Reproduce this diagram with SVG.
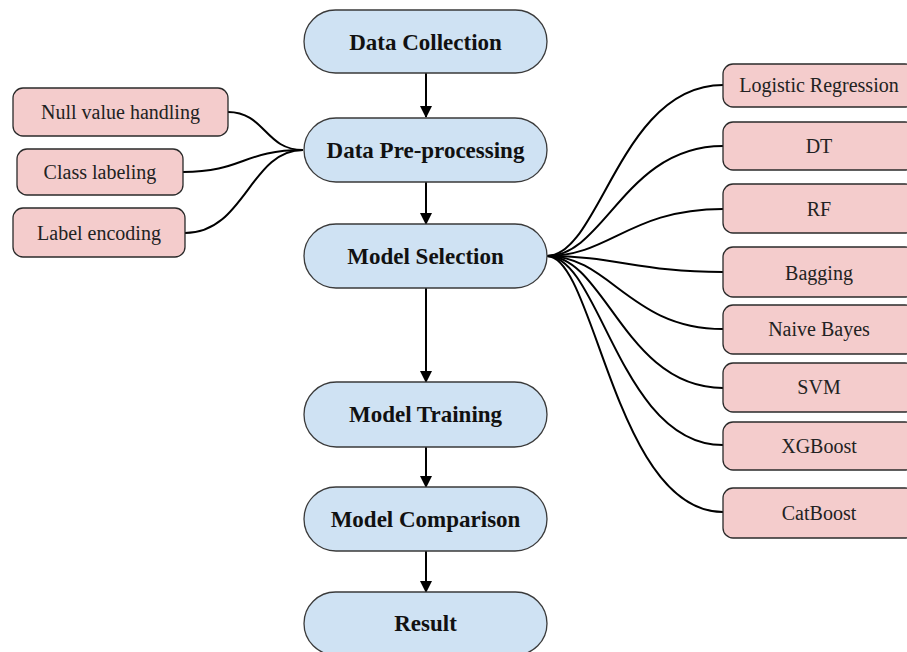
<svg xmlns="http://www.w3.org/2000/svg" width="907" height="652" viewBox="0 0 907 652">
<defs>
<style>
.main rect{fill:#cfe2f3;stroke:#3a3a3a;stroke-width:1.3}
.sub rect{fill:#f4cccc;stroke:#2a2a2a;stroke-width:1.3}
.main text{font-family:"Liberation Serif","Times New Roman",serif;font-weight:bold;font-size:23px;fill:#111;text-anchor:middle;dominant-baseline:central}
.sub text{font-family:"Liberation Serif","Times New Roman",serif;font-size:20px;fill:#222;text-anchor:middle;dominant-baseline:central}
.edge{fill:none;stroke:#000;stroke-width:2}
.arrow{fill:none;stroke:#000;stroke-width:2}
</style>
<marker id="ah" markerWidth="12" markerHeight="14" refX="11" refY="6" orient="auto" markerUnits="userSpaceOnUse">
<path d="M0,0 L12,6 L0,12 Z" fill="#000"/>
</marker>
</defs>
<rect width="907" height="652" fill="#fff"/>
<g id="connectors">
<path class="arrow" d="M426,73 V117" marker-end="url(#ah)"/>
<path class="arrow" d="M426,182 V224" marker-end="url(#ah)"/>
<path class="arrow" d="M426,288 V382" marker-end="url(#ah)"/>
<path class="arrow" d="M426,447 V487" marker-end="url(#ah)"/>
<path class="arrow" d="M426,551 V592" marker-end="url(#ah)"/>
<path class="edge" d="M228,112 C265,112 265,150 303,150"/>
<path class="edge" d="M183,172 C243,172 243,150 303,150"/>
<path class="edge" d="M185,233 C245,233 250,150 303,150"/>
<path class="edge" d="M547,256 C600,256 620,85 723,85"/>
<path class="edge" d="M547,256 C605,256 625,146 723,146"/>
<path class="edge" d="M547,256 C610,256 630,209 723,209"/>
<path class="edge" d="M547,256 C615,256 640,272 723,272"/>
<path class="edge" d="M547,256 C610,256 630,329 723,329"/>
<path class="edge" d="M547,256 C605,256 625,388 723,388"/>
<path class="edge" d="M547,256 C600,256 620,445 723,445"/>
<path class="edge" d="M547,256 C595,256 615,512 723,512"/>
</g>
<g id="data-collection" class="main"><rect x="304" y="10" width="243" height="63" rx="31.5"/><text x="425.5" y="42">Data Collection</text></g>
<g id="data-preprocessing" class="main"><rect x="304" y="118" width="243" height="64" rx="32"/><text x="425.5" y="150">Data Pre-processing</text></g>
<g id="model-selection" class="main"><rect x="304" y="224" width="243" height="64" rx="32"/><text x="425.5" y="256">Model Selection</text></g>
<g id="model-training" class="main"><rect x="304" y="382" width="243" height="65" rx="32.5"/><text x="425.5" y="414">Model Training</text></g>
<g id="model-comparison" class="main"><rect x="304" y="487" width="243" height="64" rx="32"/><text x="425.5" y="519">Model Comparison</text></g>
<g id="result" class="main"><rect x="304" y="592" width="243" height="63" rx="31.5"/><text x="425.5" y="623">Result</text></g>
<g id="null-value-handling" class="sub"><rect x="13" y="88" width="215" height="48" rx="10"/><text x="120.5" y="112">Null value handling</text></g>
<g id="class-labeling" class="sub"><rect x="17" y="149" width="166" height="46" rx="10"/><text x="100" y="172">Class labeling</text></g>
<g id="label-encoding" class="sub"><rect x="13" y="208" width="172" height="49" rx="10"/><text x="99" y="233">Label encoding</text></g>
<g id="logistic-regression" class="sub"><rect x="723" y="64" width="192" height="43" rx="10"/><text x="819" y="85">Logistic Regression</text></g>
<g id="dt" class="sub"><rect x="723" y="122" width="192" height="48" rx="10"/><text x="819" y="146">DT</text></g>
<g id="rf" class="sub"><rect x="723" y="184" width="192" height="49" rx="10"/><text x="819" y="209">RF</text></g>
<g id="bagging" class="sub"><rect x="723" y="247" width="192" height="50" rx="10"/><text x="819" y="273">Bagging</text></g>
<g id="naive-bayes" class="sub"><rect x="723" y="305" width="192" height="49" rx="10"/><text x="819" y="329">Naive Bayes</text></g>
<g id="svm" class="sub"><rect x="723" y="363" width="192" height="49" rx="10"/><text x="819" y="387">SVM</text></g>
<g id="xgboost" class="sub"><rect x="723" y="422" width="192" height="48" rx="10"/><text x="819" y="446">XGBoost</text></g>
<g id="catboost" class="sub"><rect x="723" y="488" width="192" height="50" rx="10"/><text x="819" y="513">CatBoost</text></g>
</svg>
